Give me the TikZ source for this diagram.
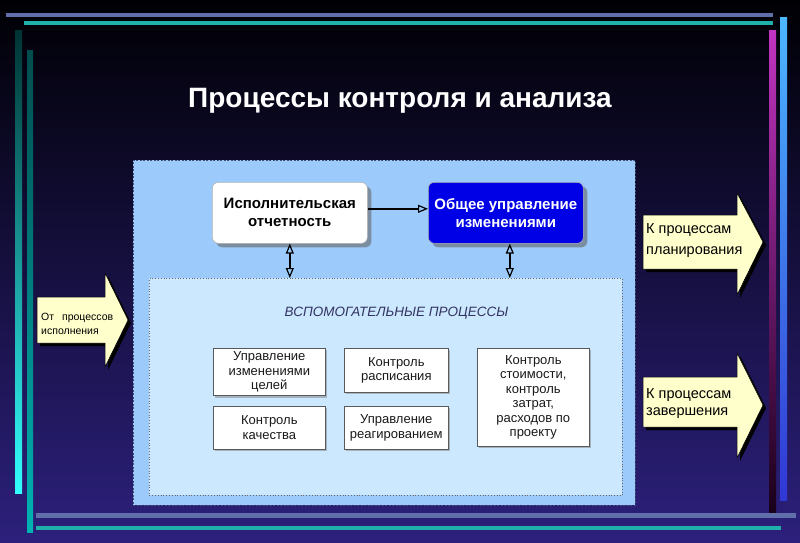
\documentclass[tikz,border=0pt]{standalone}
\usepackage{fontspec}
\setmainfont{Liberation Sans}
\usetikzlibrary{arrows.meta,shadows,calc}
\definecolor{bgtop}{RGB}{0,0,4}
\definecolor{bgbot}{RGB}{44,32,124}
\definecolor{outerfill}{RGB}{156,202,250}
\definecolor{innerfill}{RGB}{204,232,255}
\definecolor{cream}{RGB}{255,255,204}
\definecolor{chgblue}{RGB}{0,0,230}
\definecolor{slate}{RGB}{96,110,170}
\definecolor{tealln}{RGB}{32,176,170}
\tikzset{
 topbox/.style={rounded corners=6pt, minimum width=155pt, minimum height=61pt, align=center,
   font=\bfseries\fontsize{15}{18}\selectfont, draw=gray!60, line width=0.6pt, anchor=north west,
   drop shadow={shadow xshift=4pt, shadow yshift=-4pt, fill=black!60, opacity=0.6}},
 subbox/.style={draw=gray!70!black, fill=white, line width=0.6pt, align=center, anchor=north west,
   font=\fontsize{13}{14.5}\selectfont, text=black!90,
   drop shadow={shadow xshift=2pt, shadow yshift=-2pt, fill=gray, opacity=0.5}},
 bigarrow/.style={fill=cream, draw=black, line width=0.5pt},
 arrshadow/.style={fill=black},
 tri/.style={-{Triangle[open,length=10pt,width=8pt,line width=1.2pt]}, line width=1.6pt},
 dbl/.style={{Triangle[open,length=10pt,width=8pt,line width=1.2pt]}-{Triangle[open,length=10pt,width=8pt,line width=1.2pt]}, line width=1.6pt},
 arrtext/.style={align=left, anchor=west, inner sep=0pt, text=black},
}
\begin{document}
\begin{tikzpicture}[x=1pt,y=-1pt]
\useasboundingbox (0,0) rectangle (800,542);
\shade[top color=bgtop,bottom color=bgbot] (0,0) rectangle (800,542);
% frame lines
\fill[slate] (6,13) rectangle (773,17);
\fill[tealln] (24,21) rectangle (773,25);
\fill[slate] (36,513) rectangle (796,518);
\fill[tealln] (36,526) rectangle (781,530);
\shade[top color=black!60!teal, bottom color=cyan!80!white] (15,30) rectangle (22,493);
\shade[top color=teal!60!black, bottom color=teal!60!cyan] (27,50) rectangle (33,532);
\shade[top color=violet!60!magenta!80!white, bottom color=black!80!violet] (769,30) rectangle (776,512);
\shade[top color=blue!40!cyan!70!white, bottom color=blue!50!slate] (780,17) rectangle (787,500);
% title
\node[text=white, font=\bfseries\fontsize{28}{32}\selectfont, anchor=base] (title) at (400,107) {Процессы контроля и анализа};
% outer and inner areas
\node[fill=outerfill, draw=black!30!slate, dash pattern=on 2pt off 1.5pt, line width=0.8pt,
  minimum width=502pt, minimum height=345pt, anchor=north west, inner sep=0pt] (outer) at (133,160) {};
\node[fill=innerfill, draw=black!60, dotted, line width=0.8pt,
  minimum width=473pt, minimum height=217pt, anchor=north west, inner sep=0pt] (inner) at (149,278) {};
% top boxes
\node[topbox, fill=white, text=black] (exec) at (212,182) {Исполнительская\\отчетность};
\node[topbox, fill=chgblue, text=white] (chg) at (428,182) {Общее управление\\изменениями};
\draw[tri] ([yshift=4pt]exec.east) -- ([yshift=4pt]chg.west);
\draw[dbl] (exec.south) -- (exec.south |- inner.north);
\draw[dbl] ([xshift=4pt]chg.south) -- ([xshift=4pt]chg.south |- inner.north);
% inner content
\node[font=\itshape\fontsize{13.5}{16}\selectfont, text=black!70!blue!60!gray] (aux) at (396.5,313) {ВСПОМОГАТЕЛЬНЫЕ ПРОЦЕССЫ};
\node[subbox, minimum width=112pt, minimum height=44pt] (b1) at (213,348) {Управление\\изменениями\\целей};
\node[subbox, minimum width=104pt, minimum height=44pt] (b2) at (344,348) {Контроль\\расписания};
\node[subbox, minimum width=112pt, minimum height=98pt] (b3) at (477,348) {Контроль\\стоимости,\\контроль\\затрат,\\расходов по\\проекту};
\node[subbox, minimum width=112pt, minimum height=43pt] (b4) at (213,406) {Контроль\\качества};
\node[subbox, minimum width=104pt, minimum height=43pt] (b5) at (344,406) {Управление\\реагированием};
% left arrow
\fill[arrshadow] (40,300) -- (108,300) -- (108,276) -- (131,323) -- (108,370) -- (108,346) -- (40,346) -- cycle;
\draw[bigarrow] (37,297) -- (105,297) -- (105,273) -- (128,320) -- (105,367) -- (105,343) -- (37,343) -- cycle;
\node[arrtext, font=\fontsize{10.5}{14}\selectfont] (fromexec) at (41,324) {От\hspace{5pt} процессов\\исполнения};
% right arrows
\fill[arrshadow] (646,218) -- (740,218) -- (740,196) -- (766,245) -- (740,298) -- (740,272) -- (646,272) -- cycle;
\draw[bigarrow] (643,215) -- (737,215) -- (737,193) -- (763,242) -- (737,295) -- (737,269) -- (643,269) -- cycle;
\node[arrtext, font=\fontsize{14.5}{21}\selectfont] (toplan) at (646,241) {К процессам\\планирования};
\fill[arrshadow] (646,380) -- (740,380) -- (740,356) -- (766,408) -- (740,461) -- (740,430) -- (646,430) -- cycle;
\draw[bigarrow] (643,377) -- (737,377) -- (737,353) -- (763,405) -- (737,458) -- (737,427) -- (643,427) -- cycle;
\node[arrtext, font=\fontsize{14.5}{17}\selectfont] (toend) at (646,403.5) {К процессам\\завершения};
\end{tikzpicture}
\end{document}
